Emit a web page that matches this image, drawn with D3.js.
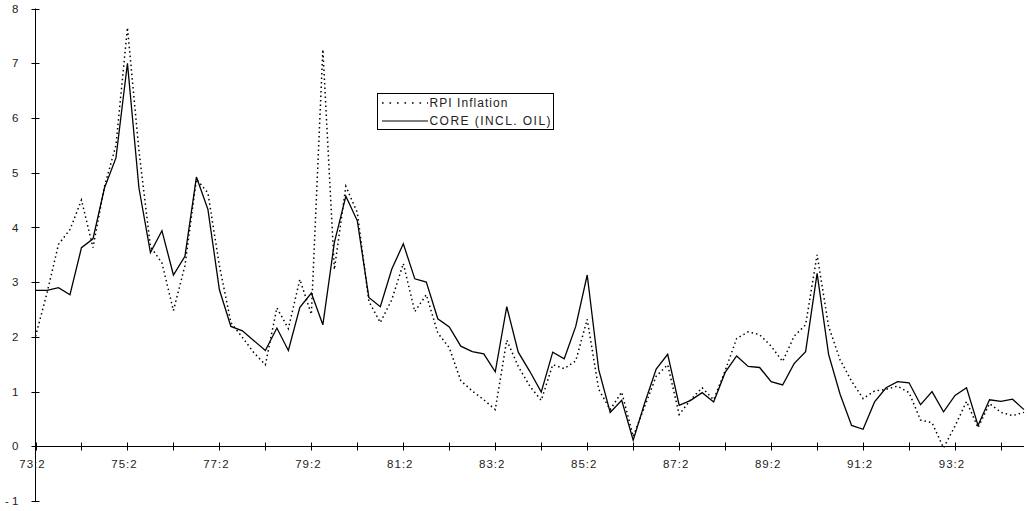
<!DOCTYPE html>
<html>
<head>
<meta charset="utf-8">
<script src="https://cdn.jsdelivr.net/npm/d3@7/dist/d3.min.js"></script>
<style>
  html, body { margin: 0; padding: 0; background: #fff; }
  svg { display: block; }
  text { font-family: "Liberation Sans", Arial, sans-serif; fill: #222; }
</style>
</head>
<body>
<svg id="chart" width="1028" height="511"></svg>
<script>
// Quarterly categories 73:2 .. 94:4
const quarters = [
  "73:2","73:3","73:4",
  "74:1","74:2","74:3","74:4",
  "75:1","75:2","75:3","75:4",
  "76:1","76:2","76:3","76:4",
  "77:1","77:2","77:3","77:4",
  "78:1","78:2","78:3","78:4",
  "79:1","79:2","79:3","79:4",
  "80:1","80:2","80:3","80:4",
  "81:1","81:2","81:3","81:4",
  "82:1","82:2","82:3","82:4",
  "83:1","83:2","83:3","83:4",
  "84:1","84:2","84:3","84:4",
  "85:1","85:2","85:3","85:4",
  "86:1","86:2","86:3","86:4",
  "87:1","87:2","87:3","87:4",
  "88:1","88:2","88:3","88:4",
  "89:1","89:2","89:3","89:4",
  "90:1","90:2","90:3","90:4",
  "91:1","91:2","91:3","91:4",
  "92:1","92:2","92:3","92:4",
  "93:1","93:2","93:3","93:4",
  "94:1","94:2","94:3","94:4"
];

const rpiInflation = [
  2.01, 2.80, 3.69,
  3.96, 4.50, 3.63, 4.75,
  5.50, 7.65, 5.40, 3.65,
  3.35, 2.48, 3.30, 4.88,
  4.63, 3.30, 2.26, 1.99,
  1.71, 1.49, 2.53, 2.15,
  3.05, 2.41, 7.25, 3.23,
  4.75, 4.27, 2.65, 2.26,
  2.68, 3.34, 2.46, 2.77,
  2.07, 1.80, 1.20, 1.01,
  0.85, 0.67, 1.94, 1.46,
  1.10, 0.84, 1.49, 1.42,
  1.56, 2.32, 1.04, 0.67,
  0.99, 0.18, 0.73, 1.28,
  1.49, 0.58, 0.85, 1.07,
  0.85, 1.38, 1.97, 2.09,
  2.04, 1.83, 1.55, 2.01,
  2.22, 3.50, 2.19, 1.58,
  1.19, 0.87, 1.01, 1.04,
  1.10, 0.98, 0.48, 0.43,
  -0.03, 0.37, 0.82, 0.34,
  0.78, 0.62, 0.56, 0.62
];

const coreInclOil = [
  2.85, 2.85, 2.90,
  2.77, 3.63, 3.79, 4.72,
  5.27, 7.00, 4.72, 3.54,
  3.94, 3.13, 3.47, 4.92,
  4.33, 2.86, 2.19, 2.11,
  1.93, 1.75, 2.16, 1.75,
  2.54, 2.80, 2.22, 3.72,
  4.57, 4.12, 2.72, 2.55,
  3.24, 3.70, 3.06, 3.00,
  2.33, 2.18, 1.83, 1.73,
  1.69, 1.36, 2.55, 1.72,
  1.37, 0.99, 1.72, 1.60,
  2.19, 3.13, 1.40, 0.62,
  0.84, 0.11, 0.79, 1.41,
  1.68, 0.75, 0.84, 0.98,
  0.81, 1.35, 1.65, 1.46,
  1.44, 1.18, 1.12, 1.51,
  1.73, 3.16, 1.68, 0.95,
  0.38, 0.31, 0.81, 1.07,
  1.18, 1.16, 0.76, 1.00,
  0.63, 0.93, 1.07, 0.38,
  0.85, 0.82, 0.86, 0.67
];

const yTicks = [-1, 0, 1, 2, 3, 4, 5, 6, 7, 8];
const xTickLabels = ["73:2","75:2","77:2","79:2","81:2","83:2","85:2","87:2","89:2","91:2","93:2"];
const xMinorTicks = quarters.filter(q => q.endsWith(":2"));
const seriesNames = ["RPI Inflation", "CORE (INCL. OIL)"];

const svg = d3.select("#chart");

const x = d3.scalePoint().domain(quarters).range([35.5, 1024]);
const y = d3.scaleLinear().domain([-1, 8]).range([501, 8.5]);

const axisX = 35.5;
const zeroY = Math.round(y(0)) + 0.5;

// Y axis
const gy = svg.append("g");
gy.append("line")
  .attr("x1", axisX).attr("x2", axisX)
  .attr("y1", y(8)).attr("y2", y(-1))
  .attr("stroke", "#000").attr("stroke-width", 1);
gy.selectAll("line.tick").data(yTicks).enter().append("line")
  .attr("class", "tick")
  .attr("x1", axisX - 4).attr("x2", axisX + 4)
  .attr("y1", d => Math.round(y(d)) + 0.5).attr("y2", d => Math.round(y(d)) + 0.5)
  .attr("stroke", "#000").attr("stroke-width", 1);
gy.selectAll("text").data(yTicks).enter().append("text")
  .attr("x", 18.5)
  .attr("y", d => y(d))
  .attr("dy", "0.36em")
  .attr("text-anchor", "end")
  .style("font-size", "11.5px")
  .text(d => d < 0 ? "- " + Math.abs(d) : d);

// X axis
const gx = svg.append("g");
gx.append("line")
  .attr("x1", axisX).attr("x2", x(quarters[quarters.length - 1]))
  .attr("y1", zeroY).attr("y2", zeroY)
  .attr("stroke", "#000").attr("stroke-width", 1);
gx.selectAll("line.tick").data(xMinorTicks).enter().append("line")
  .attr("class", "tick")
  .attr("x1", d => Math.round(x(d)) + 0.5).attr("x2", d => Math.round(x(d)) + 0.5)
  .attr("y1", zeroY - 4).attr("y2", zeroY + 4)
  .attr("stroke", "#000").attr("stroke-width", 1);
gx.selectAll("text").data(xTickLabels).enter().append("text")
  .attr("x", d => x(d) - 3)
  .attr("y", zeroY + 21)
  .attr("text-anchor", "middle")
  .style("font-size", "11.5px")
  .style("letter-spacing", "1px")
  .text(d => d);

// Lines
const line = d3.line()
  .x((d, i) => x(quarters[i]))
  .y(d => y(d));

svg.append("path")
  .datum(coreInclOil)
  .attr("d", line)
  .attr("fill", "none")
  .attr("stroke", "#000")
  .attr("stroke-width", 1.3)
  .attr("stroke-linejoin", "miter");

svg.append("path")
  .datum(rpiInflation)
  .attr("d", line)
  .attr("fill", "none")
  .attr("stroke", "#000")
  .attr("stroke-width", 1.5)
  .attr("stroke-dasharray", "1.5,3");

// Legend
const lg = svg.append("g");
lg.append("rect")
  .attr("x", 377.5).attr("y", 93.5)
  .attr("width", 176).attr("height", 36)
  .attr("fill", "#fff").attr("stroke", "#000").attr("stroke-width", 1);
const legendRows = [
  { name: seriesNames[0], dash: "1.6,5.9", w: 1.6, y: 103, len: 78 },
  { name: seriesNames[1], dash: null, w: 1.2, y: 121, len: 121 }
];
legendRows.forEach(r => {
  const l = lg.append("line")
    .attr("x1", 382).attr("x2", 428)
    .attr("y1", r.y).attr("y2", r.y)
    .attr("stroke", "#000").attr("stroke-width", r.w);
  if (r.dash) l.attr("stroke-dasharray", r.dash);
  lg.append("text")
    .attr("x", 429.5).attr("y", r.y)
    .attr("dy", "0.36em")
    .attr("textLength", r.len)
    .attr("lengthAdjust", "spacing")
    .style("font-size", "12px")
    .text(r.name);
});
</script>
</body>
</html>
